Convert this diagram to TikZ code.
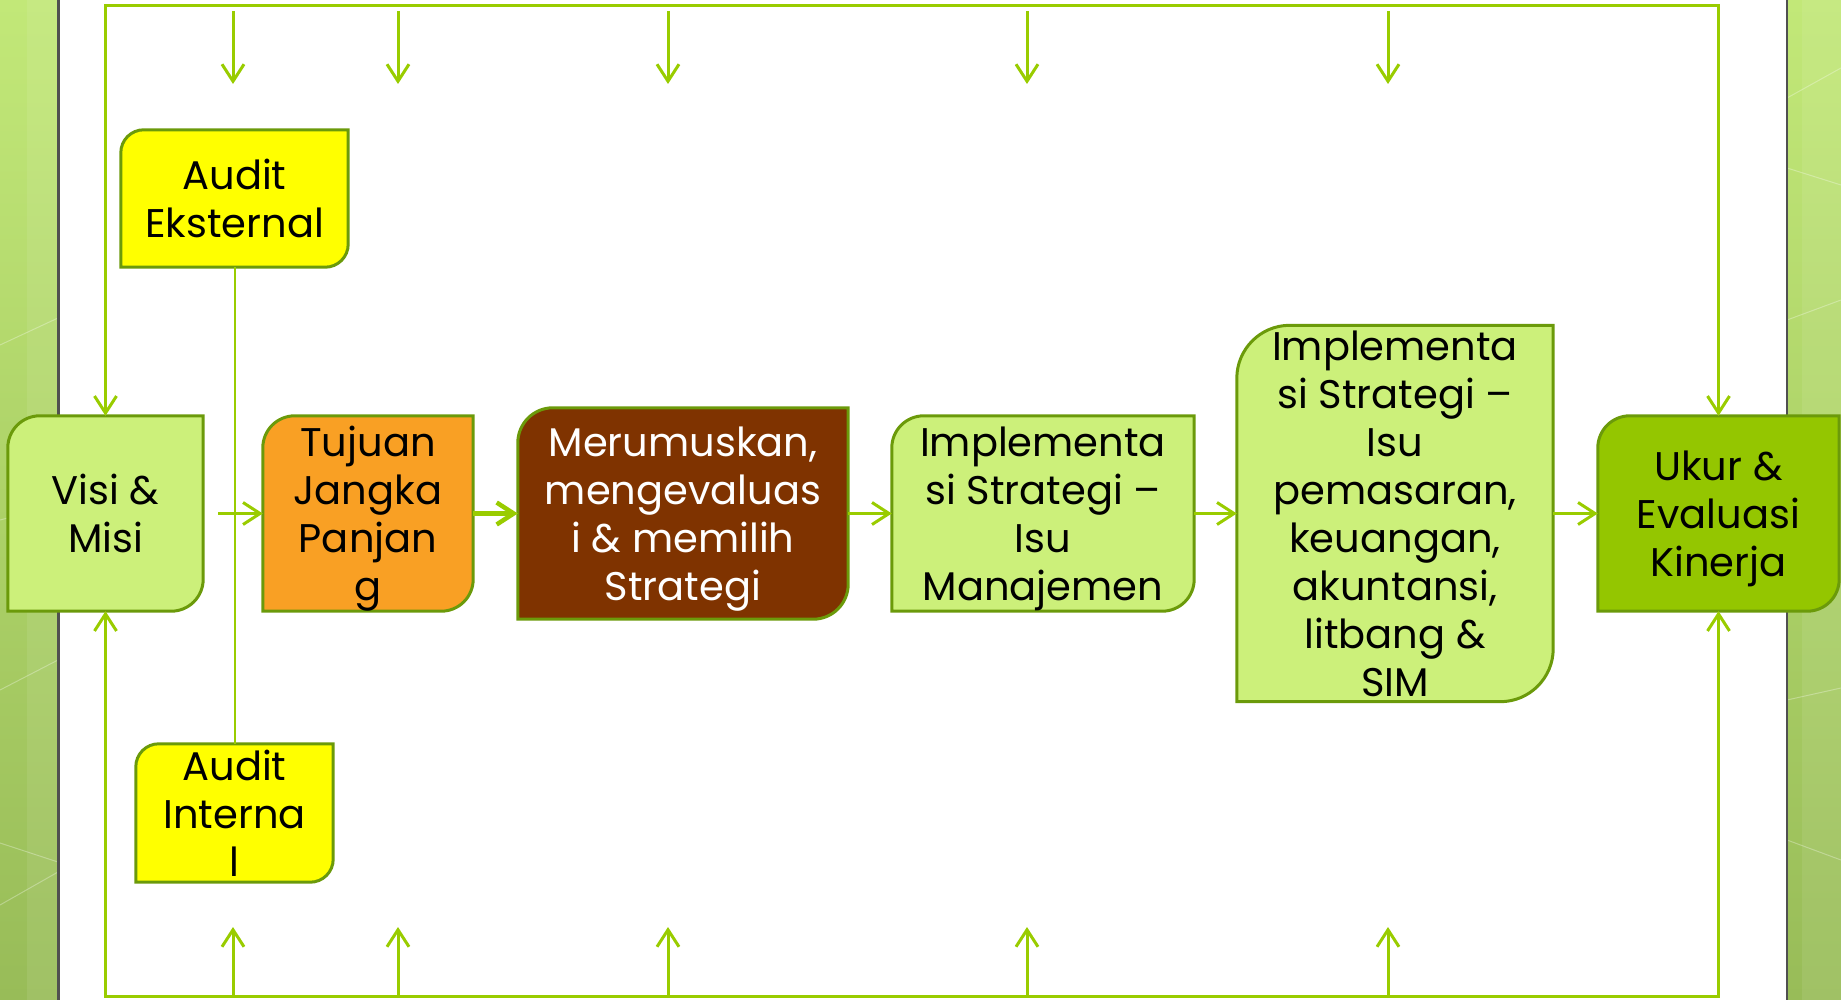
\documentclass[tikz,border=0pt]{standalone}
\usepackage{fontspec}
\setmainfont{Poppins}
\usetikzlibrary{arrows.meta,backgrounds}
\definecolor{leaf}{HTML}{99CC00}
\definecolor{rim}{HTML}{6B9A0A}
\definecolor{pale}{HTML}{CCF07A}
\definecolor{amber}{HTML}{F9A024}
\definecolor{bark}{HTML}{7F3300}
\definecolor{lime}{HTML}{94C600}
\definecolor{lemon}{HTML}{FFFF00}
\definecolor{bandtop}{HTML}{C2E878}
\definecolor{bandbot}{HTML}{98BC58}
\definecolor{edge}{HTML}{505050}

\begin{document}
\begin{tikzpicture}[x=1pt, y=-1pt,
   >={Straight Barb[length=17pt,width=22pt]},
   every node/.style={inner sep=0pt, align=center, text depth=0pt,
     font=\fontsize{40}{48}\selectfont},
   stepbox/.style 2 args={minimum width=#1pt, minimum height=#2pt},
   link/.style={draw=leaf, line width=3pt},
   faint/.style={white, opacity=.3, line width=1pt}]

\useasboundingbox (0,0) rectangle (1841,1000);

\node[stepbox={195}{195}] (visi) at (105.5,513.5) {Visi \&\\Misi};
\node[stepbox={210}{195}] (tujuan) at (368,513.5) {Tujuan\\Jangka\\Panjan\\g};
\node[stepbox={330}{211}, text=white] (rumus) at (683,513.5) {Merumuskan,\\mengevaluas\\i \& memilih\\Strategi};
\node[stepbox={302}{195}] (manaj) at (1043,513.5) {Implementa\\si Strategi --\\Isu\\Manajemen};
\node[stepbox={316}{376}] (fungsi) at (1395,513.5) {Implementa\\si Strategi --\\Isu\\pemasaran,\\keuangan,\\akuntansi,\\litbang \&\\SIM};
\node[stepbox={241}{195}] (ukur) at (1718.5,513.5) {Ukur \&\\Evaluasi\\Kinerja};
\node[stepbox={227}{137}] (ekst) at (234.5,198.5) {Audit\\Eksternal};
\node[stepbox={197}{138}] (intern) at (234.5,813) {Audit\\Interna\\l};

\coordinate (frametop) at (900,6);
\coordinate (framebot) at (900,996);

\draw[link,<->] (visi.north) |- (frametop) -| (ukur.north);
\draw[link,<->] (visi.south) |- (framebot) -| (ukur.south);
\foreach \x [count=\i] in {233,398,668,1027,1388} {
  \coordinate (in\i) at (\x,11);
  \coordinate (to\i) at (\x,84);
  \coordinate (up\i) at (\x,996);
  \coordinate (at\i) at (\x,927);
  \draw[link,->] (in\i) -- (to\i);
  \draw[link,->] (up\i) -- (at\i);
}
\draw[link, line width=2pt] (ekst) -- (intern);
\draw[link,->,shorten <=15pt] (visi) -- (tujuan);
\draw[link,->,line width=4.5pt] (tujuan) -- (rumus);
\draw[link,->] (rumus) -- (manaj);
\draw[link,->] (manaj) -- (fungsi);
\draw[link,->] (fungsi) -- (ukur);

\begin{scope}[on background layer]
\shade[top color=bandtop, bottom color=bandbot] (0,0) rectangle (58,1000);
\shade[top color=bandtop, bottom color=bandbot] (1787,0) rectangle (1841,1000);
\fill[white, opacity=.08] (27,0) rectangle (58,1000);
\fill[white, opacity=.08] (1802,0) rectangle (1841,1000);
\draw[faint] (0,345) -- (58,318);
\draw[faint] (0,520) -- (58,505);
\draw[faint] (0,690) -- (58,660);
\draw[faint] (0,843) -- (58,862);
\draw[faint] (0,905) -- (58,872);
\draw[faint] (1787,98) -- (1841,68);
\draw[faint] (1787,168) -- (1841,185);
\draw[faint] (1787,320) -- (1841,300);
\draw[faint] (1787,700) -- (1841,688);
\draw[faint] (1787,840) -- (1841,860);
\draw[edge, line width=2.5pt] (58.5,0) -- (58.5,1000);
\draw[edge, line width=2.5pt] (1787,0) -- (1787,1000);
\foreach \n/\c/\r in {visi/pale/32, tujuan/amber/32, rumus/bark/35, manaj/pale/32,
    fungsi/pale/53, ukur/lime/32, ekst/lemon/23, intern/lemon/23}
  \draw[rim, line width=3pt, fill=\c] (\n.south west) [rounded corners=\r pt]
    -- (\n.north west) [sharp corners] -- (\n.north east) [rounded corners=\r pt]
    -- (\n.south east) [sharp corners] -- cycle;
\end{scope}

\end{tikzpicture}
\end{document}
